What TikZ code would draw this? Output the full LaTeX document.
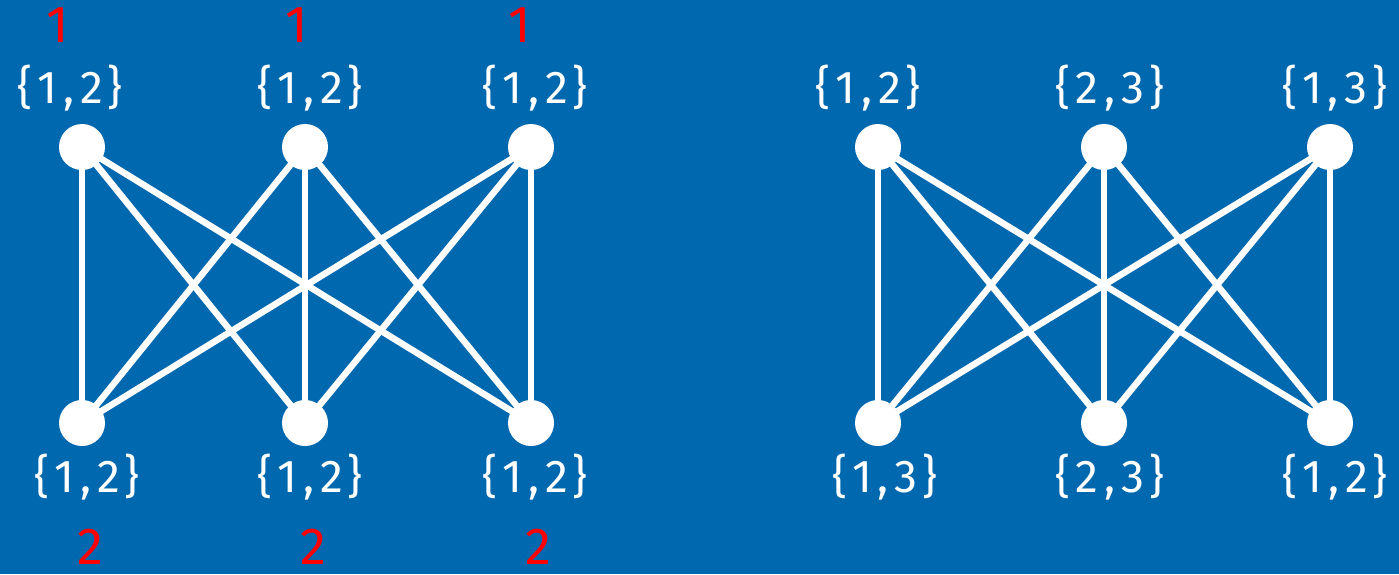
\documentclass[tikz,border=0pt]{standalone}
\usepackage{fontspec}
\setmainfont{Fira Sans}
\definecolor{bgblue}{RGB}{0,104,175}
% a list of colours, spaced out as in a formula
\newcommand{\clist}[2]{\{\hspace{5pt}#1\hspace{6pt},\hspace{6pt}#2\hspace{5pt}\}}
\begin{document}
\begin{tikzpicture}[x=1pt,y=-1pt,
  edge/.style={white,line width=6.5pt},
  lbl/.style={text=white,font=\fontsize{46}{46}\selectfont,inner sep=0pt},
  col/.style={text=red,font=\fontsize{52}{52}\selectfont,inner sep=0pt}]
\fill[bgblue] (0,0) rectangle (1399,574);
\useasboundingbox (0,0) rectangle (1399,574);
% vertex positions: left graph (t top, u bottom), right graph (p top, q bottom)
\foreach \n/\x in {a/82,b/305,c/531}{
  \coordinate (t\n) at (\x,147); \coordinate (u\n) at (\x,423);}
\foreach \n/\x in {a/878,b/1104,c/1330}{
  \coordinate (p\n) at (\x,147); \coordinate (q\n) at (\x,423);}
% complete bipartite edges
\foreach \i in {a,b,c}{\foreach \j in {a,b,c}{
  \draw[edge] (t\i) -- (u\j);
  \draw[edge] (p\i) -- (q\j);}}
% vertices
\foreach \n in {ta,tb,tc,ua,ub,uc,pa,pb,pc,qa,qb,qc}{\fill[white] (\n) circle (23);}
% lists of the left graph
\node[lbl] (lta) at (70,88) {\clist12};
\node[lbl] (ltb) at (310,88) {\clist12};
\node[lbl] (ltc) at (535,88) {\clist12};
\node[lbl] (lua) at (87,477) {\clist12};
\node[lbl] (lub) at (310,477) {\clist12};
\node[lbl] (luc) at (535,477) {\clist12};
% colours chosen
\node[col] (cta) at (58,25) {1};
\node[col] (ctb) at (297,25) {1};
\node[col] (ctc) at (520,25) {1};
\node[col] (cua) at (90,547) {2};
\node[col] (cub) at (313,547) {2};
\node[col] (cuc) at (538,547) {2};
% lists of the right graph
\node[lbl] (rta) at (868,88) {\clist12};
\node[lbl] (rtb) at (1110,88) {\clist23};
\node[lbl] (rtc) at (1335,88) {\clist13};
\node[lbl] (rua) at (885,477) {\clist13};
\node[lbl] (rub) at (1110,477) {\clist23};
\node[lbl] (ruc) at (1335,477) {\clist12};
\end{tikzpicture}
\end{document}
